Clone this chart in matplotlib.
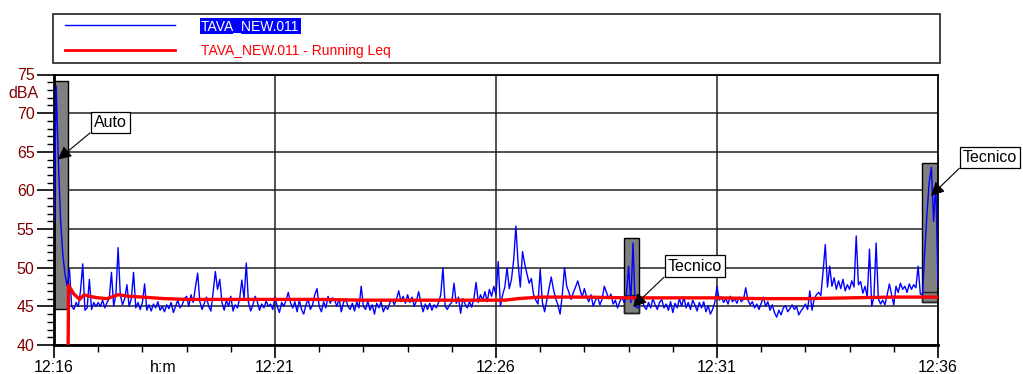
import numpy as np
import matplotlib
matplotlib.use("Agg")
import matplotlib.pyplot as plt
from matplotlib.patches import Rectangle
from matplotlib.lines import Line2D
from matplotlib.legend_handler import HandlerLine2D
import matplotlib.transforms as mtransforms

plt.rcParams['font.family'] = ['Liberation Sans', 'DejaVu Sans']

# ---- data -------------------------------------------------------------
sample_step_min = 0.05  # minutes between samples (3 s)
level_dba = [
    56, 73.5, 63.7, 56, 51.7, 49.1, 47.6, 49.8, 45, 44.6, 45.5, 45, 47, 50.5, 44.5, 44.8, 48.5, 44.6, 45.5, 45,
    45.5, 45, 45.8, 44.8, 45.5, 46, 49.4, 45, 46.5, 52.6, 46.5, 45.2, 46, 47.8, 45, 46, 49.4, 44.8, 45.5, 44.6,
    45.5, 47.9, 44.5, 45.2, 44.4, 45.3, 44.8, 45.6, 44.5, 45, 44.3, 45.2, 44.7, 45.5, 44.2, 45, 45.8, 44.8, 45.2, 46,
    46.3, 45, 46.5, 45.5, 47.5, 49.3, 45.6, 44.6, 45.4, 46.2, 45, 44.4, 46.8, 49.5, 47.2, 48.5, 45.5, 44.5, 45.8, 45,
    46.3, 44.4, 45.2, 44.8, 46, 48.4, 46, 50.6, 45.5, 44.4, 45.2, 46.3, 45.6, 44.5, 45.3, 44.8, 45.7, 45, 45.3, 44.6,
    46.2, 45, 44.2, 45.5, 45, 45.8, 46.8, 45.5, 44.8, 45.6, 44.3, 45.8, 44.6, 44, 45.2, 45.9, 44.6, 45.2, 46.5, 47.3,
    45, 44.3, 45.6, 44.8, 46.3, 45.4, 46.1, 45.8, 45, 46, 44.3, 45.5, 46, 45, 44.6, 45.4, 44.4, 45.6, 44.8, 47.6,
    45, 44.6, 45.7, 44.5, 45.2, 44, 45.4, 44.8, 45.6, 44.3, 45, 44.6, 45.5, 45.9, 45.2, 46, 47, 45.6, 46.3, 45.4,
    46.5, 45.5, 46.2, 45, 45.7, 46.9, 45.5, 44.3, 45.3, 44.6, 45.4, 44.5, 45.2, 44.8, 45.5, 46.5, 50, 45, 44.6, 45.2,
    45.5, 48, 45.4, 46.2, 44.1, 46, 45.3, 44.8, 45.6, 44.9, 46, 48.1, 45.5, 46.5, 45.8, 46.9, 45.6, 47.2, 46.3, 47.6,
    46.5, 50.8, 45, 46.5, 47.5, 50, 47.3, 48.5, 51, 55.4, 50.5, 47.5, 52.1, 50.5, 49.2, 48, 48.6, 46.5, 45.8, 45.3,
    49.8, 45.5, 44.3, 45.8, 47.3, 48.8, 47.2, 46, 45.2, 44, 46.5, 50, 47.6, 46.8, 45.9, 46.8, 47.5, 48.3, 47.2, 46.2,
    47.3, 46.2, 45.6, 46.5, 45, 45.8, 46.2, 45.2, 45.9, 47.6, 46.8, 46, 46.6, 45.3, 45.8, 44.8, 45.6, 46.2, 45.5, 46.5,
    50.2, 45.5, 53.2, 45, 44.8, 45.5, 46, 45, 44.6, 45.5, 44.8, 46, 45.2, 44.6, 45.5, 45.9, 44.8, 45.3, 44.5, 45.6,
    44.2, 45.4, 44.8, 46, 45, 46.2, 44.8, 45.5, 44.6, 45.8, 45.2, 44.4, 45.5, 44.8, 45.6, 44.3, 45.1, 44, 44.6, 45.5,
    47.6, 45.8, 46.2, 45.5, 46, 45.3, 46.3, 45.6, 46, 45.4, 46.2, 45.6, 45.9, 47.4, 45.8, 45.2, 45.6, 44.8, 45.3, 44.6,
    45.4, 46.2, 45, 45.6, 44.5, 45.2, 44.2, 43.6, 44.5, 43.9, 44.8, 45.1, 44.3, 44.7, 45.2, 44.6, 45, 43.9, 44.4, 44.8,
    45.3, 44.6, 47, 44.5, 46, 46.5, 46.8, 46.4, 49.5, 53, 47.5, 50.2, 47.6, 48.7, 47.2, 48.3, 47.3, 48.5, 47, 47.8,
    47.2, 48.3, 47.5, 54.1, 47.8, 48.2, 46.7, 47.6, 46.2, 52.4, 45, 46.2, 53.2, 46, 45.3, 45.8, 45.2, 46.5, 47.9, 46.5,
    45.2, 47.6, 46.8, 48, 47.2, 47.6, 46.8, 47.9, 47.2, 47.8, 47.4, 50.2, 46.6, 46.5, 52, 57, 61, 63, 56, 61,
    47.6,
]

# running Leq (minutes since 12:16, dBA)
leq_time = [0.32, 0.33, 0.45, 0.58, 0.68, 0.8, 1.0, 1.2, 1.45, 1.7, 2.0, 2.5, 3.0, 4.0, 5.0, 6.0, 7.0,
            8.0, 9.0, 10.2, 10.5, 11.0, 12.0, 13.0, 14.0, 15.0, 16.0, 17.0, 18.0, 19.0, 20.0]
leq_dba = [40, 47.7, 46.6, 45.9, 46.5, 46.3, 46.1, 46.0, 46.5, 46.3, 46.2, 46.0, 45.9, 45.9, 45.9, 45.9, 45.8,
           45.8, 45.8, 45.8, 46.0, 46.2, 46.2, 46.1, 46.1, 46.1, 46.0, 46.0, 46.1, 46.2, 46.2]

# masked event regions
event_start = [0.0, 12.9, 19.64]
event_end = [0.32, 13.24, 20.0]
event_low = [44.7, 44.1, 45.5]
event_high = [74.2, 53.9, 63.6]
event_inner = [None, 46.5, 46.8]
event_label = ["Auto", "Tecnico", "Tecnico"]
arrow_tip_t = [0.09, 13.1, 19.84]
arrow_tip_db = [64.0, 44.95, 59.3]
label_t = [1.27, 14.5, 21.18]
label_db = [68.8, 50.2, 64.3]

tick_minutes = [0, 5, 10, 15, 20]
tick_labels = ["12:16", "12:21", "12:26", "12:31", "12:36"]
y_ticks = [40, 45, 50, 55, 60, 65, 70, 75]
legend_labels = ["TAVA_NEW.011", "TAVA_NEW.011 - Running Leq"]

# ---- figure -----------------------------------------------------------
W, H = 1023, 374
fig = plt.figure(figsize=(W / 100, H / 100), dpi=100)
ax = fig.add_axes([54 / W, 1 - 345 / H, (938 - 54) / W, (345 - 74.5) / H])

t = np.arange(len(level_dba)) * sample_step_min

dark_red = '#800000'

# event boxes
for i in range(len(event_start)):
    ax.add_patch(Rectangle((event_start[i], event_low[i]), event_end[i] - event_start[i],
                           event_high[i] - event_low[i], facecolor='#808080',
                           edgecolor='black', lw=1.0, zorder=2))
    if event_inner[i] is not None:
        ax.add_patch(Rectangle((event_start[i], event_low[i]), event_end[i] - event_start[i],
                               event_inner[i] - event_low[i], facecolor='none',
                               edgecolor='#222222', lw=1.0, zorder=2.1))

# grid
for yv in y_ticks:
    ax.axhline(yv, color='#222222', lw=1.1, zorder=1)
for xv in tick_minutes[1:-1]:
    ax.axvline(xv, color='#222222', lw=1.1, zorder=1)

blue_line, = ax.plot(t, level_dba, color='#0000FF', lw=1.0, zorder=3)
red_line, = ax.plot(leq_time, leq_dba, color='#FF0000', lw=2.4, zorder=4)

ax.set_xlim(0, 20)
ax.set_ylim(40, 75)

ax.set_xticks(tick_minutes)
ax.set_xticklabels(tick_labels)
ax.set_xticks(np.arange(0, 21, 1), minor=True)
ax.set_yticks(y_ticks)
ax.set_yticks(np.arange(40, 76, 1), minor=True)

ax.tick_params(axis='both', which='major', direction='out', length=9, width=1.2, labelsize=11.5, pad=2)
ax.tick_params(axis='both', which='minor', direction='out', length=5, width=1.0)
ax.tick_params(axis='y', which='major', length=12, labelcolor=dark_red)
for lab in ax.get_xticklabels():
    lab.set_color('black')

for s in ax.spines.values():
    s.set_linewidth(1.3)
    s.set_color('black')
ax.spines['left'].set_linewidth(2.0)
ax.spines['bottom'].set_linewidth(2.0)

# axis unit labels
ax.text(-0.017, 72.5, "dBA", color=dark_red, fontsize=11.5, ha='right', va='center',
        transform=mtransforms.blended_transform_factory(ax.transAxes, ax.transData))
ax.text(2.47, -0.055, "h:m", color='black', fontsize=11.5, ha='center', va='top',
        transform=mtransforms.blended_transform_factory(ax.transData, ax.transAxes))

# annotations
for i in range(len(event_label)):
    ax.annotate(event_label[i], xy=(arrow_tip_t[i], arrow_tip_db[i]),
                xytext=(label_t[i], label_db[i]), textcoords='data',
                fontsize=11.5, ha='center', va='center', annotation_clip=False,
                bbox=dict(boxstyle='square,pad=0.2', fc='white', ec='black', lw=0.9),
                arrowprops=dict(arrowstyle='-|>', color='black', lw=0.8,
                                mutation_scale=20, relpos=(0, 0), shrinkA=0, shrinkB=0),
                zorder=6)


class OffsetLineHandler(HandlerLine2D):
    """Legend line handler that leaves a small gap before the line."""
    def __init__(self, offset_pts=5, lw=None, **kw):
        super().__init__(**kw)
        self.offset_pts = offset_pts
        self.lw = lw

    def create_artists(self, legend, orig_handle, xdescent, ydescent, width, height, fontsize, trans):
        artists = super().create_artists(legend, orig_handle, xdescent, ydescent,
                                         width, height, fontsize, trans)
        for a in artists:
            if isinstance(a, Line2D):
                xd = np.asarray(a.get_xdata(), dtype=float)
                if xd.size >= 2:
                    xd = xd.copy()
                    xd[0] = xd[0] + self.offset_pts
                    a.set_xdata(xd)
                if self.lw is not None:
                    a.set_linewidth(self.lw)
        return artists


# legend
leg = fig.legend([blue_line, red_line], legend_labels,
                 loc='lower left',
                 bbox_to_anchor=(53 / W, 1 - 63 / H, 887 / W, 51 / H),
                 mode='expand', ncol=1, fontsize=10, frameon=True, fancybox=False,
                 handlelength=8.4, handletextpad=1.9, borderpad=0.36, labelspacing=0.8,
                 borderaxespad=0,
                 handler_map={blue_line: OffsetLineHandler(offset_pts=5),
                              red_line: OffsetLineHandler(offset_pts=5, lw=2.0)})
leg.get_frame().set_edgecolor('black')
leg.get_frame().set_linewidth(1.3)
texts = leg.get_texts()
texts[0].set_color('white')
texts[0].set_bbox(dict(facecolor='#0000FF', edgecolor='none', pad=1))
texts[1].set_color('#FF0000')

fig.savefig('out.png', dpi=100)
